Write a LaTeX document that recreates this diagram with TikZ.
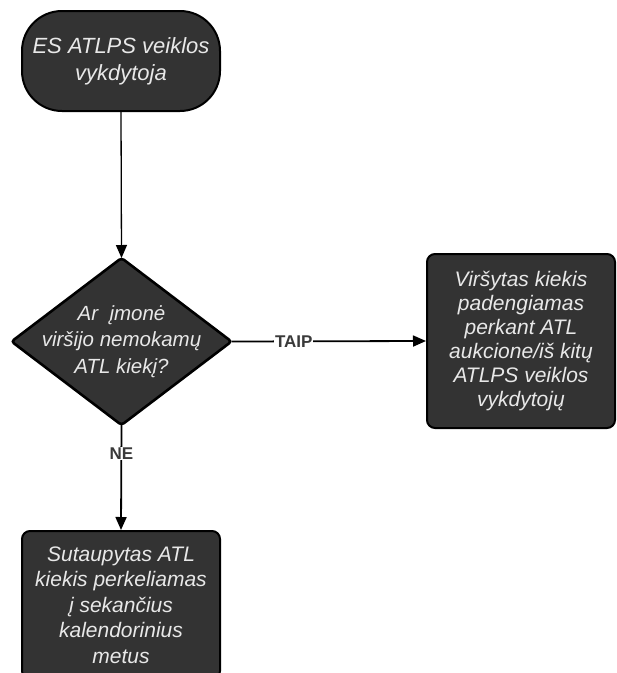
\documentclass[tikz,border=0pt]{standalone}
\usepackage{fontspec}
\setmainfont{Liberation Sans}
\usetikzlibrary{shapes.geometric,arrows.meta}
\definecolor{boxfill}{HTML}{333333}
\definecolor{boxtext}{HTML}{E8E8E8}
\definecolor{lbl}{HTML}{3A3A3A}
\tikzset{
  base/.style={draw=black, line width=2pt, fill=boxfill, text=boxtext,
    font=\fontsize{21}{25.5}\selectfont\itshape, align=center, inner sep=0pt},
  terminal/.style={base, font=\fontsize{22}{27}\selectfont\itshape, rounded corners=40pt, minimum width=198pt, minimum height=100pt},
  procbox/.style={base, rounded corners=8pt},
  decision/.style={base, diamond, line width=2.6pt, outer sep=0pt, rounded corners=3pt, minimum width=220pt, minimum height=167pt},
  dtext/.style={text=boxtext, font=\fontsize{20.5}{26.5}\selectfont\itshape, align=center, inner sep=0pt},
  conn/.style={draw=black, line width=1.8pt, -{Triangle[length=13pt,width=11pt]}},
  thinconn/.style={draw=black, line width=1.3pt, -{Triangle[length=13pt,width=11pt]}},
  lab/.style={fill=white, text=lbl, font=\fontsize{17}{20}\selectfont\bfseries, inner sep=1pt}
}
\begin{document}
\begin{tikzpicture}[x=1pt,y=-1pt]
\useasboundingbox (0,0) rectangle (617,673);
\clip (0,0) rectangle (617,673);
\node[terminal] (start) at (121,61) {ES ATLPS veiklos\\vykdytoja};
\node[decision] (q) at (121.5,341.5) {};
\node[dtext] (qt) at (121.5,341.5) {Ar\ \ įmonė\\viršijo nemokamų\\ATL kiekį?};
\node[procbox, font=\fontsize{21}{24}\selectfont\itshape, minimum width=188pt, minimum height=174pt] (yes) at (521,341) {Viršytas kiekis\\padengiamas\\perkant ATL\\aukcione/iš kitų\\ATLPS veiklos\\vykdytojų};
\node[procbox, minimum width=198pt, minimum height=148pt, anchor=north] (no) at (121,530) {Sutaupytas ATL\\kiekis perkeliamas\\į sekančius\\kalendorinius\\metus};
\draw[thinconn] (start.south) -- (q.north);
\draw[conn] (q.east) -- node[lab, pos=0.32] {TAIP} (yes.west);
\draw[conn] (q.south) -- node[lab, pos=0.27] {NE} (no.north);
\end{tikzpicture}
\end{document}
